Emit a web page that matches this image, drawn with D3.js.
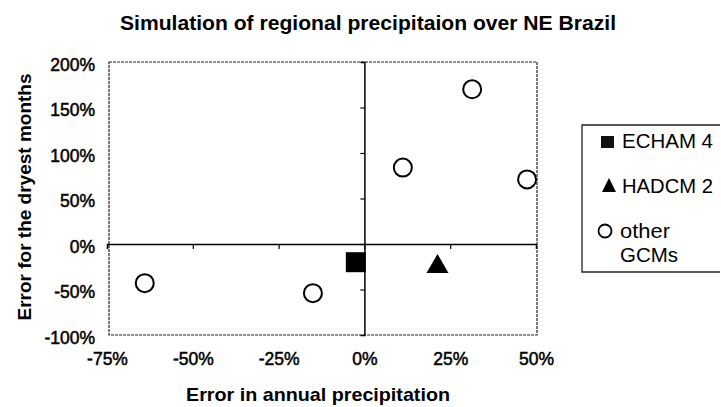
<!DOCTYPE html>
<html>
<head>
<meta charset="utf-8">
<script src="https://cdn.jsdelivr.net/npm/d3@7"></script>
<style>
  html, body { margin: 0; padding: 0; background: #fff; }
  svg { display: block; font-family: "Liberation Sans", Arial, sans-serif; }
</style>
</head>
<body>
<svg id="chart" width="721" height="407"></svg>
<script>
// ---- data ----
const titleText = "Simulation of regional precipitaion over NE Brazil";
const xTitle = "Error in annual precipitation";
const yTitle = "Error for the dryest months";
const xTicks = [-75, -50, -25, 0, 25, 50];
const yTicks = [-100, -50, 0, 50, 100, 150, 200];
const otherX = [-64, -15, 11.2, 31.4, 47.4];
const otherY = [-43, -54, 84, 170, 71];
const echamX = [-2.5];
const echamY = [-20];
const hadcmX = [21.3];
const hadcmY = [-22];
const legendLabels = ["ECHAM 4", "HADCM 2", "other", "GCMs"];

// ---- chart ----
const svg = d3.select("#chart");
const x = d3.scaleLinear().domain([-75, 50]).range([107, 536]);
const y = d3.scaleLinear().domain([-100, 200]).range([335, 62]);
const pct = d => d + "%";

// frame (plot area border, dotted as in the scan)
svg.append("rect")
  .attr("x", x(-75) + 2).attr("y", y(200))
  .attr("width", x(50) - x(-75) - 1).attr("height", y(-100) - y(200))
  .attr("fill", "none").attr("stroke", "#222").attr("stroke-width", 1.2)
  .attr("stroke-dasharray", "3,1");

// zero axes with small ticks
const xZero = svg.append("g").attr("transform", `translate(0,${y(0)})`)
  .call(d3.axisBottom(x).tickValues(xTicks.filter(v => v > -75 && v < 50)).tickSize(5).tickFormat(""));
xZero.select(".domain").attr("stroke", "#000").attr("stroke-width", 1.5);
xZero.selectAll(".tick line").attr("stroke", "#000").attr("stroke-width", 1.2);

const yZero = svg.append("g").attr("transform", `translate(${x(0)},0)`)
  .call(d3.axisLeft(y).tickValues(yTicks.filter(v => v > -100 && v < 200)).tickSize(4).tickFormat(""));
yZero.select(".domain").attr("stroke", "#000").attr("stroke-width", 1.5);
yZero.selectAll(".tick line").attr("stroke", "#000").attr("stroke-width", 1.2);

// tick labels (low position)
const yLab = svg.append("g").attr("transform", `translate(${x(-75) - 9},0)`)
  .call(d3.axisLeft(y).tickValues(yTicks).tickSize(0).tickFormat(pct));
yLab.select(".domain").remove();
yLab.selectAll("text").attr("font-size", 17.5).attr("fill", "#000")
  .attr("font-family", "Liberation Sans, Arial, sans-serif")
  .attr("stroke", "#000").attr("stroke-width", 0.5).attr("dy", "0.48em");

const xLab = svg.append("g").attr("transform", `translate(0,${y(-100)})`)
  .call(d3.axisBottom(x).tickValues(xTicks).tickSize(0).tickFormat(pct));
xLab.select(".domain").remove();
xLab.selectAll("text").attr("font-size", 17.5).attr("fill", "#000")
  .attr("font-family", "Liberation Sans, Arial, sans-serif")
  .attr("stroke", "#000").attr("stroke-width", 0.5).attr("y", 18).attr("dy", "0.71em");

// titles
svg.append("text").attr("x", 368).attr("y", 30).attr("text-anchor", "middle")
  .attr("font-size", 19.5).attr("font-weight", "bold")
  .attr("textLength", 496).attr("lengthAdjust", "spacingAndGlyphs")
  .text(titleText);
svg.append("text").attr("x", 318).attr("y", 401).attr("text-anchor", "middle")
  .attr("font-size", 19).attr("font-weight", "bold")
  .attr("textLength", 264).attr("lengthAdjust", "spacingAndGlyphs")
  .text(xTitle);
svg.append("text").attr("transform", "translate(31,197) rotate(-90)").attr("text-anchor", "middle")
  .attr("font-size", 19).attr("font-weight", "bold")
  .attr("textLength", 247).attr("lengthAdjust", "spacingAndGlyphs")
  .text(yTitle);

// markers
svg.append("g").selectAll("circle").data(otherX.map((v, i) => [v, otherY[i]]))
  .join("circle").attr("cx", d => x(d[0])).attr("cy", d => y(d[1])).attr("r", 9)
  .attr("fill", "#fff").attr("stroke", "#000").attr("stroke-width", 2);
svg.append("g").selectAll("path").data(echamX.map((v, i) => [v, echamY[i]]))
  .join("path").attr("transform", d => `translate(${x(d[0])},${y(d[1])})`)
  .attr("d", d3.symbol(d3.symbolSquare, 400)).attr("fill", "#000");
svg.append("g").selectAll("path").data(hadcmX.map((v, i) => [v, hadcmY[i]]))
  .join("path").attr("transform", d => `translate(${x(d[0])},${y(d[1])})`)
  .attr("d", "M0,-10L11,9L-11,9Z").attr("fill", "#000");

// legend
const lg = svg.append("g");
lg.append("path").attr("d", "M720,125H582V272H720").attr("fill", "none")
  .attr("stroke", "#222").attr("stroke-width", 1.3);
lg.append("rect").attr("x", 601).attr("y", 136).attr("width", 13).attr("height", 12).attr("fill", "#111");
lg.append("path").attr("d", "M609,178L616,192L602,192Z").attr("fill", "#000");
lg.append("circle").attr("cx", 605).attr("cy", 231).attr("r", 6.5).attr("fill", "#fff")
  .attr("stroke", "#000").attr("stroke-width", 1.8);
const legPos = [[622, 148, 91], [622, 193, 91], [620, 238, 50], [620, 262, 58]];
legendLabels.forEach((t, i) => {
  lg.append("text").attr("x", legPos[i][0]).attr("y", legPos[i][1])
    .attr("font-size", 20).attr("textLength", legPos[i][2]).attr("lengthAdjust", "spacingAndGlyphs")
    .text(t);
});
</script>
</body>
</html>
